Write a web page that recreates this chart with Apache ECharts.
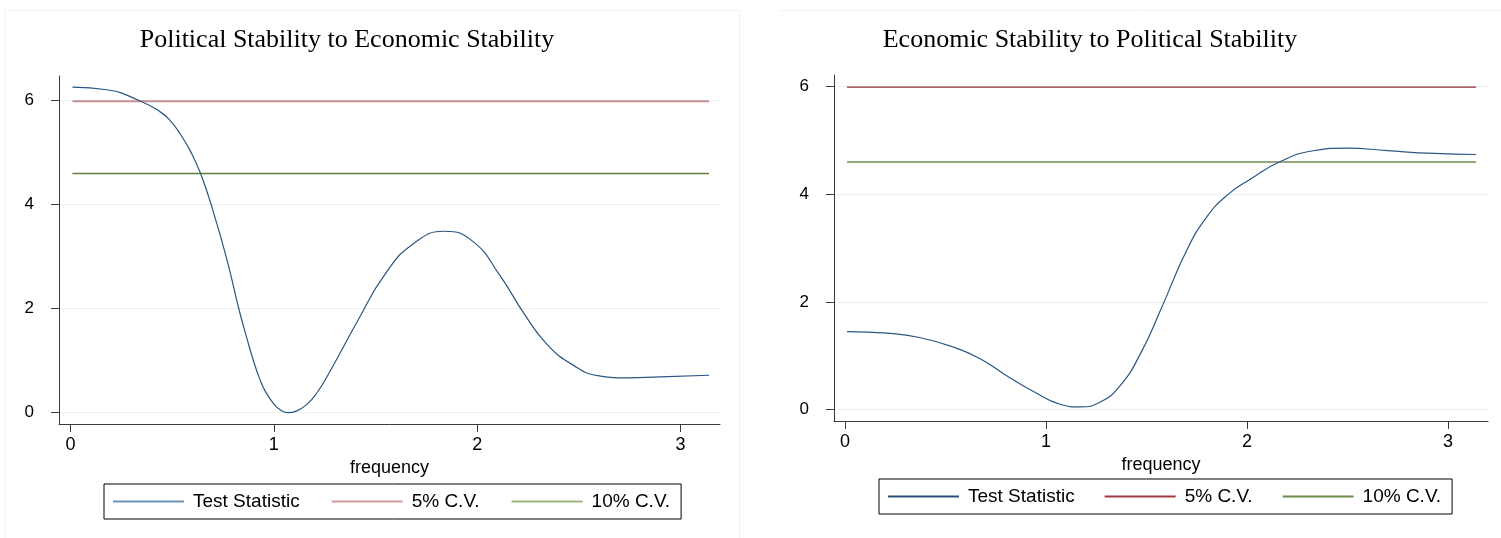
<!DOCTYPE html>
<html>
<head>
<meta charset="utf-8">
<script src="https://cdn.jsdelivr.net/npm/echarts@6/dist/echarts.min.js"></script>
<style>
html, body { margin: 0; padding: 0; background: #fff; }
#main { width: 1501px; height: 538px; }
</style>
</head>
<body>
<div id="main"></div>
<script>
var freqTicks = [0, 1, 2, 3]
var statTicks = [0, 2, 4, 6]
var legendNames = ['Test Statistic', '5% C.V.', '10% C.V.']

// Political Stability -> Economic Stability
var polFreq = [0.01, 0.18, 0.34, 0.44, 0.49, 0.54, 0.59, 0.64, 0.70, 0.77, 0.83, 0.87, 0.90, 0.93, 0.96, 1.00, 1.03, 1.07, 1.11, 1.16, 1.21, 1.28, 1.41, 1.55, 1.69, 1.84, 1.98, 2.11, 2.23, 2.34, 2.47, 2.60, 2.74, 2.90, 3.14]
var polStat = [6.26, 6.21, 6.00, 5.79, 5.62, 5.36, 5.03, 4.60, 3.90, 2.94, 1.97, 1.40, 1.00, 0.66, 0.40, 0.17, 0.06, 0.00, 0.03, 0.15, 0.37, 0.82, 1.75, 2.68, 3.26, 3.49, 3.29, 2.65, 1.91, 1.33, 0.92, 0.71, 0.67, 0.69, 0.72]

// Economic Stability -> Political Stability
var ecoFreq = [0.01, 0.21, 0.37, 0.54, 0.67, 0.80, 0.94, 1.07, 1.17, 1.27, 1.37, 1.47, 1.57, 1.70, 1.80, 1.90, 2.02, 2.16, 2.33, 2.50, 2.70, 2.93, 3.14]
var ecoStat = [1.45, 1.42, 1.34, 1.16, 0.95, 0.64, 0.33, 0.10, 0.05, 0.14, 0.45, 1.04, 1.85, 2.96, 3.58, 3.98, 4.29, 4.60, 4.81, 4.86, 4.81, 4.76, 4.74]

// critical values, drawn across the frequency range
var cvFreq = [0.01, 3.14]
var cv5 = [5.99, 5.99]
var cv10 = [4.60, 4.60]

function pairs (xs, ys) {
    return xs.map(function (x, i) { return [x, ys[i]] })
}

var gridColor = '#e9f0f2'
var axisColor = '#3a3a3a'

function xAxisFor (idx, min, max) {
    return {
        type: 'value',
        gridIndex: idx,
        min: min,
        max: max,
        name: 'frequency',
        nameLocation: 'middle',
        nameGap: 32,
        nameTextStyle: { fontFamily: 'Liberation Sans', fontSize: 18, color: '#000' },
        axisLine: { show: true, onZero: false, lineStyle: { color: axisColor, width: 1 } },
        axisTick: { show: true, length: 8, customValues: freqTicks, lineStyle: { color: axisColor } },
        axisLabel: { customValues: freqTicks, margin: 12, fontFamily: 'Liberation Sans', fontSize: 18, color: '#000' },
        splitLine: { show: false }
    }
}

function yAxisFor (idx, min, max) {
    return {
        type: 'value',
        gridIndex: idx,
        min: min,
        max: max,
        axisLine: { show: true, onZero: false, lineStyle: { color: axisColor, width: 1 } },
        axisTick: { show: true, length: 8, customValues: statTicks, lineStyle: { color: axisColor } },
        axisLabel: { customValues: statTicks, margin: 25, fontFamily: 'Liberation Sans', fontSize: 17, color: '#000' },
        splitLine: { show: true, lineStyle: { color: gridColor, width: 1 } }
    }
}

function legendFor (left, top, gap, colors) {
    return {
        left: left,
        top: top,
        orient: 'horizontal',
        backgroundColor: '#fff',
        borderColor: '#000',
        borderWidth: 1,
        padding: [8, 11, 8, 9],
        itemGap: gap,
        itemWidth: 71,
        itemHeight: 2,
        selectedMode: false,
        textStyle: { fontFamily: 'Liberation Sans', fontSize: 19, color: '#000', padding: [0, 0, 0, 4] },
        data: legendNames.map(function (n, i) {
            return { name: n, icon: 'rect', itemStyle: { color: colors[i] } }
        })
    }
}

function lineSeries (name, idx, data, color, width, z) {
    return {
        name: name,
        type: 'line',
        xAxisIndex: idx,
        yAxisIndex: idx,
        data: data,
        symbol: 'none',
        showSymbol: false,
        smooth: 0.5,
        lineStyle: { color: color, width: width },
        itemStyle: { color: color },
        z: z
    }
}

var myChart = echarts.init(document.getElementById('main'), null, { renderer: 'canvas' })
var option = {
    animation: false,
    backgroundColor: '#fff',
    graphic: [
        { type: 'line', shape: { x1: 5, y1: 10.5, x2: 739, y2: 10.5 }, style: { stroke: '#edf2f3', lineWidth: 1 } },
        { type: 'line', shape: { x1: 5, y1: 10.5, x2: 5, y2: 538 }, style: { stroke: '#edf2f3', lineWidth: 1 } },
        { type: 'line', shape: { x1: 739.5, y1: 10.5, x2: 739.5, y2: 538 }, style: { stroke: '#edf2f3', lineWidth: 1 } },
        { type: 'line', shape: { x1: 780, y1: 10.5, x2: 1501, y2: 10.5 }, style: { stroke: '#edf2f3', lineWidth: 1 } },
        {
            type: 'text', x: 347, y: 40,
            style: { text: 'Political Stability to Economic Stability', textAlign: 'center', textVerticalAlign: 'middle', font: '26px "Liberation Serif"', fill: '#000' }
        },
        {
            type: 'text', x: 1090, y: 40,
            style: { text: 'Economic Stability to Political Stability', textAlign: 'center', textVerticalAlign: 'middle', font: '26px "Liberation Serif"', fill: '#000' }
        }
    ],
    legend: [
        legendFor(104, 484, 32, ['#6d93bb', '#d49a9d', '#9db57f']),
        legendFor(879, 479, 30, ['#2c4f77', '#9e3a40', '#6e8a4e'])
    ],
    grid: [
        { left: 59, top: 76, width: 661, height: 348 },
        { left: 834, top: 75, width: 654, height: 346 }
    ],
    xAxis: [xAxisFor(0, -0.056, 3.194), xAxisFor(1, -0.055, 3.199)],
    yAxis: [yAxisFor(0, -0.217, 6.475), yAxisFor(1, -0.212, 6.217)],
    series: [
        lineSeries('5% C.V.', 0, pairs(cvFreq, cv5), '#c39192', 2, 2),
        lineSeries('10% C.V.', 0, pairs(cvFreq, cv10), '#5e7f3a', 1.3, 2),
        lineSeries('Test Statistic', 0, pairs(polFreq, polStat), '#2a5682', 1.2, 3),
        lineSeries('5% C.V.', 1, pairs(cvFreq, cv5), '#8a2e34', 1.3, 2),
        lineSeries('10% C.V.', 1, pairs(cvFreq, cv10), '#97a77e', 2, 2),
        lineSeries('Test Statistic', 1, pairs(ecoFreq, ecoStat), '#2a5682', 1.2, 3)
    ]
}
myChart.setOption(option)
</script>
</body>
</html>
